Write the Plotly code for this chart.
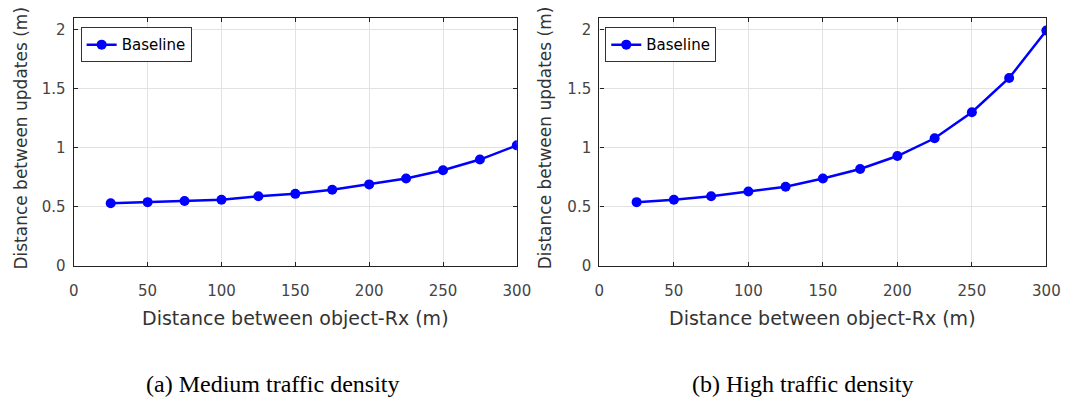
import plotly.graph_objects as go

x_dist = [25, 50, 75, 100, 125, 150, 175, 200, 225, 250, 275, 300]
medium_baseline = [0.53, 0.54, 0.55, 0.56, 0.59, 0.61, 0.645, 0.69, 0.74, 0.81, 0.90, 1.02]
high_baseline = [0.54, 0.56, 0.59, 0.63, 0.67, 0.74, 0.82, 0.93, 1.08, 1.30, 1.59, 1.99]
x_ticks = [0, 50, 100, 150, 200, 250, 300]
y_ticks = [0, 0.5, 1, 1.5, 2]
series_name = "Baseline"
x_title = "Distance between object-Rx (m)"
y_title = "Distance between updates (m)"
captions = ["(a) Medium traffic density", "(b) High traffic density"]

W, H = 1082, 410
blue = "#0000ff"
sans = "DejaVu Sans, Arial"

fig = go.Figure()
fig.add_trace(go.Scatter(x=x_dist, y=medium_baseline, mode="lines+markers", name=series_name,
                         line=dict(color=blue, width=2.5), marker=dict(color=blue, size=10),
                         xaxis="x", yaxis="y", legend="legend"))
fig.add_trace(go.Scatter(x=x_dist, y=high_baseline, mode="lines+markers", name=series_name,
                         line=dict(color=blue, width=2.5), marker=dict(color=blue, size=10),
                         xaxis="x2", yaxis="y2", legend="legend2"))

ydom = [1 - 272 / H, 1 - 18 / H]
axis_common = dict(showline=True, linecolor="#222222", linewidth=1.3, mirror="ticks",
                   showgrid=True, gridcolor="#e2e2e2", gridwidth=1, zeroline=False,
                   ticks="inside", ticklen=4, tickcolor="#222222",
                   tickfont=dict(family=sans, size=15, color="#444444"))

legend_common = dict(xanchor="left", yanchor="top", bgcolor="white",
                     bordercolor="#333333", borderwidth=1, itemwidth=30,
                     font=dict(family=sans, size=15, color="black"))

fig.update_layout(
    width=W, height=H,
    margin=dict(l=0, r=0, t=0, b=0),
    paper_bgcolor="white", plot_bgcolor="white",
    xaxis=dict(domain=[70 / W, 521 / W], range=[0, 300], tickvals=x_ticks, anchor="y",
               ticklabelstandoff=11, **axis_common),
    yaxis=dict(domain=ydom, range=[0, 2.1], tickvals=y_ticks, anchor="x",
               ticklabelstandoff=4, **axis_common),
    xaxis2=dict(domain=[605 / W, 1060 / W], range=[0, 300], tickvals=x_ticks, anchor="y2",
                ticklabelstandoff=11, **axis_common),
    yaxis2=dict(domain=ydom, range=[0, 2.1], tickvals=y_ticks, anchor="x2",
                ticklabelstandoff=4, **axis_common),
    legend=dict(x=77 / W, y=1 - 28 / H, **legend_common),
    legend2=dict(x=611 / W, y=1 - 28 / H, **legend_common),
    showlegend=True,
)

annos = []
for cx in [(70 + 521) / 2, (605 + 1060) / 2]:
    annos.append(dict(text=x_title, x=cx / W, y=1 - 325 / H, xref="paper", yref="paper",
                      showarrow=False, xanchor="center", yanchor="middle",
                      font=dict(family=sans, size=19, color="#333333")))
for cx in [16, 550]:
    annos.append(dict(text=y_title, x=cx / W, y=1 - 141 / H, xref="paper", yref="paper",
                      showarrow=False, textangle=-90, xanchor="center", yanchor="middle",
                      font=dict(family=sans, size=17, color="#333333")))
for cx, cap in zip([272, 812], captions):
    annos.append(dict(text=cap, x=cx / W, y=1 - 393 / H, xref="paper", yref="paper",
                      showarrow=False, xanchor="center", yanchor="middle",
                      font=dict(family="Liberation Serif, Times New Roman", size=24, color="black")))
fig.update_layout(annotations=annos)

fig.write_html("out.html")
